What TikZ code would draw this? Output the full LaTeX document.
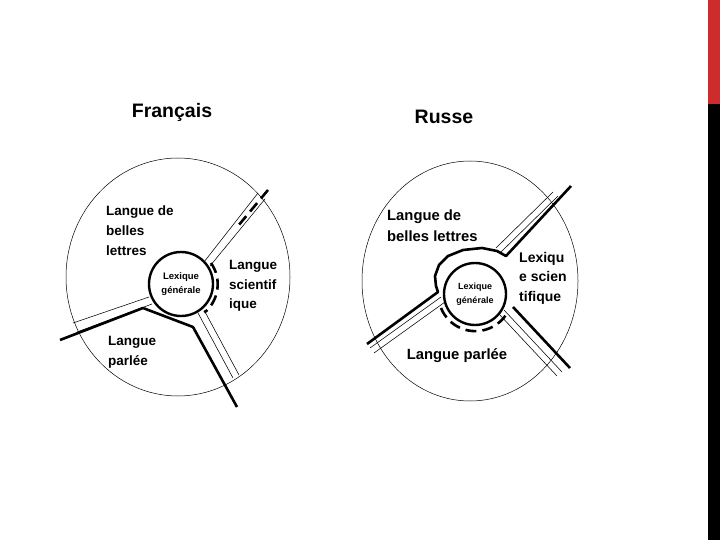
\documentclass[tikz,border=0pt]{standalone}
\usepackage{fontspec}
\setmainfont{Liberation Sans}
\usetikzlibrary{shapes.geometric}
\definecolor{barred}{RGB}{206,44,44}

\begin{document}
\begin{tikzpicture}[x=1pt, y=-1pt,
    title/.style={font=\bfseries\fontsize{19.5}{22}\selectfont, inner sep=0pt},
    zone/.style={font=\bfseries\fontsize{13.5}{19.7}\selectfont, align=left, inner sep=0pt, anchor=north west},
    ruzone/.style={zone, font=\bfseries\fontsize{14.8}{20.5}\selectfont},
    outer/.style={ellipse, draw, line width=0.5pt, inner sep=0pt},
    core/.style={circle, draw, line width=2.4pt, minimum size=64pt, inner sep=0pt, align=center, font=\bfseries\fontsize{9.5}{14}\selectfont},
    sep/.style={line width=0.55pt},
    border/.style={line width=2.6pt, line join=round},
    dashborder/.style={border, dash pattern=on 11pt off 6pt}]
    \useasboundingbox (0,0) rectangle (720,540);
    \fill[barred] (708,0) rectangle (720,104);
    \fill[black] (708,104) rectangle (720,540);

    \node (frTitle) [title] at (172,112) {Français};
    \node (frOuter) [outer, minimum width=224pt, minimum height=238pt] at (178,277) {};
    \node (frCore) [core] at (181,284) {Lexique\\générale};
    \node (frBelles) [zone] at (106,206) {Langue de\\belles\\lettres};
    \node (frSci) [zone] at (229,260) {Langue\\scientif\\ique};
    \node (frParlee) [zone] at (108,336) {Langue\\parlée};

    \draw[sep] (204,262) -- (258,193);
    \draw[sep] (210,266) -- (265,199);
    \draw[sep] (149,297) -- (73,323);
    \draw[sep] (152,304) -- (77,332);
    \draw[sep] (198,313) -- (233,378);
    \draw[sep] (204,310) -- (239,375);
    \draw[border] (60,340) -- (143,308) -- (193,327) -- (237,407);
    \draw[dashborder] (268,190) -- (238,226);
    \draw[dashborder] (211,263) arc[start angle=-35, end angle=50, radius=37];

    \node (ruTitle) [title] at (444,117) {Russe};
    \node (ruOuter) [outer, minimum width=216pt, minimum height=240pt] at (470,281) {};
    \node (ruCore) [core, font=\bfseries\fontsize{9}{13.5}\selectfont, minimum size=62pt] at (475,294) {Lexique\\générale};
    \node (ruBelles) [ruzone] at (387,210) {Langue de\\belles lettres};
    \node (ruSci) [ruzone, font=\bfseries\fontsize{14}{19.5}\selectfont] at (519,252) {Lexiqu\\e scien\\tifique};
    \node (ruParlee) [ruzone, anchor=center] at (457,356) {Langue parlée};

    \draw[sep] (496,248) -- (553,192);
    \draw[sep] (501,252) -- (558,196);
    \draw[border] (571,186) -- (506,256) -- (497,251) -- (482,248) -- (463,250) -- (448,256)
        -- (439,265) -- (435,276) -- (436,286) -- (438,292) -- (367,344);
    \draw[sep] (441,297) -- (370,348);
    \draw[sep] (445,302) -- (374,353);
    \draw[border] (513,307) -- (570,368);
    \draw[sep] (504,310) -- (562,372);
    \draw[sep] (499,314) -- (557,376);
    \draw[dashborder] (441,308) arc[start angle=158, end angle=28, radius=37];
\end{tikzpicture}
\end{document}
